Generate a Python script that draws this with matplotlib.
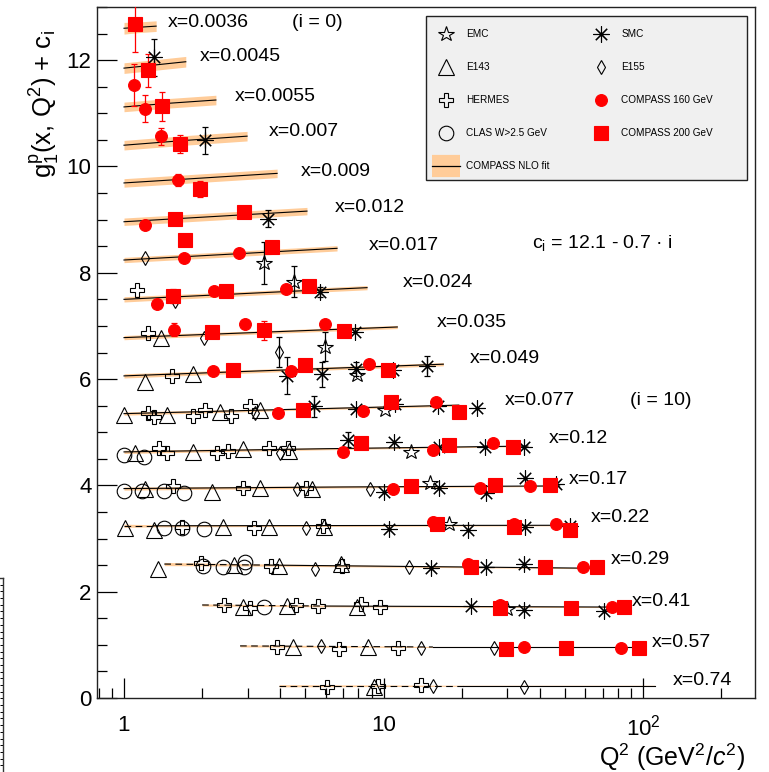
import numpy as np
import matplotlib
matplotlib.use("Agg")
import matplotlib.pyplot as plt
from matplotlib.lines import Line2D
from matplotlib.patches import Rectangle
from matplotlib.ticker import FixedLocator, FixedFormatter, LogLocator, MultipleLocator, NullFormatter

plt.rcParams['font.family'] = ['Liberation Sans', 'DejaVu Sans']
plt.rcParams['mathtext.fontset'] = 'custom'
plt.rcParams['mathtext.rm'] = 'Liberation Sans'
plt.rcParams['mathtext.it'] = 'Liberation Sans:italic'
plt.rcParams['mathtext.bf'] = 'Liberation Sans:bold'

# x bins, each shifted by c_i = 12.1 - 0.7 i
x_bins = ['0.0036', '0.0045', '0.0055', '0.007', '0.009', '0.012', '0.017', '0.024',
          '0.035', '0.049', '0.077', '0.12', '0.17', '0.22', '0.29', '0.41', '0.57', '0.74']
c_i = [12.1 - 0.7 * i for i in range(len(x_bins))]

# NLO fit per bin: Q2 nodes, g1 values, band half width
fit_q2 = [[1.0, 1.15, 1.33], [1.0, 1.32, 1.73], [1.0, 1.5, 2.26], [1.0, 1.72, 2.98],
          [1.0, 1.97, 3.89], [1.0, 2.25, 5.07], [1.0, 2.57, 6.62], [1.0, 2.94, 8.64],
          [1.0, 3.36, 11.3], [1.0, 4.1, 17.0], [1.0, 4.4, 19.5], [1.0, 6.0, 36.0],
          [1.0, 6.9, 47.7], [1.0, 1.3, 55.6], [1.43, 3.65, 69.6], [2.0, 6.0, 89.0],
          [2.8, 15.5, 101.0], [3.96, 20.3, 111.0]]
fit_g1 = [[0.50, 0.52, 0.54], [0.45, 0.51, 0.57], [0.42, 0.49, 0.55], [0.40, 0.49, 0.57],
          [0.39, 0.48, 0.57], [0.36, 0.46, 0.56], [0.34, 0.45, 0.56], [0.30, 0.41, 0.52],
          [0.28, 0.38, 0.48], [0.26, 0.37, 0.48], [0.25, 0.33, 0.41], [0.23, 0.29, 0.34],
          [0.24, 0.27, 0.29], [0.24, 0.24, 0.25], [0.22, 0.20, 0.14], [0.15, 0.13, 0.11],
          [0.08, 0.06, 0.06], [0.03, 0.03, 0.03]]
fit_err = [[0.11, 0.10, 0.10], [0.10, 0.10, 0.10], [0.09, 0.09, 0.09], [0.09, 0.09, 0.09],
           [0.08, 0.08, 0.08], [0.07, 0.07, 0.07], [0.05, 0.05, 0.05], [0.05, 0.04, 0.04],
           [0.04, 0.03, 0.03], [0.04, 0.03, 0.03], [0.03, 0.02, 0.02], [0.03, 0.02, 0.01],
           [0.03, 0.02, 0.01], [0.03, 0.02, 0.01], [0.03, 0.02, 0.01], [0.02, 0.015, 0.01],
           [0.02, 0.01, 0.01], [0.02, 0.01, 0.01]]
# below W cut the fit is dashed up to the middle node
fit_dashed = [False] * 13 + [True] * 5

# data points: (bin, Q2, g1, stat err)
emc = [(6, 3.45, 0.28, 0.40), (7, 4.50, 0.63, 0.29), (8, 5.95, 0.11, 0.27), (9, 7.87, 0.28, 0),
       (10, 10.1, 0.32, 0), (11, 12.8, 0.23, 0), (12, 15.1, 0.35, 0), (13, 17.9, 0.27, 0),
       (15, 29.9, 0.07, 0)]
smc = [(1, 1.31, 0.65, 0.35), (3, 2.05, 0.49, 0.26), (5, 3.59, 0.42, 0.16), (7, 5.71, 0.44, 0.10),
       (8, 7.77, 0.38, 0), (9, 4.26, 0.26, 0.35), (9, 5.78, 0.29, 0.23), (9, 7.82, 0.39, 0.13),
       (9, 10.9, 0.37, 0), (9, 14.7, 0.44, 0.19), (10, 5.41, 0.39, 0.20), (10, 7.82, 0.33, 0),
       (10, 11.1, 0.43, 0), (10, 16.2, 0.39, 0), (10, 23.0, 0.35, 0), (11, 7.3, 0.46, 0.14),
       (11, 11.0, 0.42, 0), (11, 16.4, 0.32, 0), (11, 24.6, 0.32, 0), (11, 34.7, 0.32, 0),
       (12, 10.0, 0.18, 0), (12, 16.4, 0.25, 0), (12, 24.8, 0.15, 0), (12, 35.0, 0.43, 0),
       (12, 46.1, 0.33, 0), (13, 10.5, 0.18, 0), (13, 21.2, 0.17, 0), (13, 35.0, 0.22, 0),
       (13, 52.5, 0.24, 0), (14, 15.2, 0.14, 0), (14, 24.8, 0.16, 0), (14, 34.9, 0.23, 0),
       (15, 21.7, 0.13, 0), (15, 34.9, 0.05, 0), (15, 70.5, 0.04, 0)]
e143 = [(8, 1.39, 0.28, 0), (9, 1.20, 0.15, 0), (9, 1.85, 0.29, 0), (10, 1.00, 0.22, 0),
        (10, 1.47, 0.22, 0), (10, 2.34, 0.29, 0), (10, 3.34, 0.32, 0), (11, 1.10, 0.21, 0),
        (11, 1.85, 0.23, 0), (11, 2.87, 0.28, 0), (11, 4.32, 0.25, 0), (12, 1.20, 0.23, 0),
        (12, 2.18, 0.18, 0), (12, 3.34, 0.25, 0), (12, 5.29, 0.24, 0), (13, 1.01, 0.19, 0),
        (13, 1.30, 0.17, 0), (13, 2.41, 0.21, 0), (13, 3.63, 0.21, 0), (13, 5.91, 0.21, 0),
        (14, 1.35, 0.12, 0), (14, 2.65, 0.20, 0), (14, 3.94, 0.18, 0), (14, 6.87, 0.22, 0),
        (15, 2.87, 0.12, 0), (15, 4.25, 0.13, 0), (15, 7.90, 0.12, 0), (16, 4.48, 0.06, 0),
        (16, 8.69, 0.06, 0), (17, 9.19, 0.00, 0)]
e155 = [(6, 1.21, 0.37, 0), (7, 1.57, 0.27, 0), (8, 2.04, 0.28, 0), (8, 3.97, 0.01, 0.28),
        (10, 3.20, 0.27, 0), (11, 3.99, 0.21, 0), (12, 4.63, 0.24, 0), (12, 8.88, 0.23, 0),
        (13, 5.03, 0.19, 0), (14, 5.46, 0.13, 0), (14, 12.5, 0.16, 0), (16, 5.74, 0.08, 0),
        (16, 14.0, 0.05, 0), (16, 26.7, 0.05, 0), (17, 15.5, 0.03, 0), (17, 34.7, 0.00, 0)]
hermes = [(7, 1.12, 0.47, 0), (8, 1.24, 0.36, 0), (9, 1.53, 0.26, 0), (10, 1.24, 0.27, 0),
          (10, 1.30, 0.19, 0), (10, 1.85, 0.21, 0), (10, 2.05, 0.32, 0), (10, 2.58, 0.20, 0),
          (10, 3.06, 0.39, 0), (11, 1.37, 0.31, 0), (11, 1.46, 0.21, 0), (11, 2.28, 0.21, 0),
          (11, 2.52, 0.25, 0), (11, 3.63, 0.31, 0), (11, 4.30, 0.30, 0), (12, 1.55, 0.29, 0),
          (12, 2.87, 0.26, 0), (12, 5.02, 0.26, 0), (13, 1.67, 0.21, 0), (13, 3.16, 0.19, 0),
          (13, 5.85, 0.24, 0), (14, 1.98, 0.24, 0), (14, 3.68, 0.18, 0), (14, 6.93, 0.18, 0),
          (15, 2.43, 0.15, 0), (15, 3.05, 0.09, 0), (15, 4.61, 0.15, 0), (15, 5.57, 0.13, 0),
          (15, 8.18, 0.17, 0), (15, 9.67, 0.11, 0), (16, 3.89, 0.06, 0), (16, 6.71, 0.03, 0),
          (16, 11.4, 0.05, 0), (17, 6.07, 0.01, 0), (17, 9.55, 0.03, 0), (17, 14.0, 0.05, 0)]
clas = [(11, 1.00, 0.17, 0), (11, 1.19, 0.14, 0), (12, 1.00, 0.19, 0), (12, 1.17, 0.19, 0),
        (12, 1.43, 0.20, 0), (12, 1.70, 0.16, 0), (13, 1.43, 0.19, 0), (13, 1.68, 0.20, 0),
        (13, 2.04, 0.18, 0), (14, 2.02, 0.18, 0), (14, 2.41, 0.16, 0), (14, 2.90, 0.16, 0),
        (14, 2.93, 0.25, 0), (15, 3.47, 0.11, 0)]
compass160 = [(2, 1.096, 0.83, 0.40), (2, 1.21, 0.39, 0.25), (3, 1.39, 0.57, 0.16),
              (4, 1.62, 0.44, 0.11), (5, 1.21, 0.30, 0.07), (6, 1.71, 0.38, 0.05),
              (6, 2.77, 0.48, 0.05), (7, 1.34, 0.22, 0.09), (7, 2.22, 0.45, 0.07),
              (7, 4.22, 0.49, 0.06), (8, 1.56, 0.43, 0.12), (8, 2.93, 0.53, 0.06),
              (8, 5.95, 0.53, 0.05), (9, 2.20, 0.36, 0), (9, 4.40, 0.35, 0), (9, 8.82, 0.48, 0),
              (10, 3.93, 0.27, 0), (10, 8.35, 0.30, 0), (10, 15.9, 0.47, 0), (11, 7.0, 0.23, 0),
              (11, 15.5, 0.27, 0), (11, 26.3, 0.40, 0), (12, 10.9, 0.24, 0), (12, 23.6, 0.26, 0),
              (12, 36.6, 0.29, 0), (13, 15.5, 0.32, 0), (13, 31.8, 0.27, 0), (13, 46.0, 0.27, 0),
              (14, 21.2, 0.22, 0), (14, 58.9, 0.16, 0), (15, 28.2, 0.15, 0), (15, 76.2, 0.11, 0),
              (16, 34.9, 0.06, 0), (16, 81.9, 0.05, 0)]
compass200 = [(0, 1.10, 0.575, 0.53), (1, 1.24, 0.41, 0.31), (2, 1.40, 0.43, 0.27),
              (3, 1.64, 0.42, 0.17), (4, 1.97, 0.27, 0.15), (5, 1.57, 0.41, 0.10),
              (5, 2.89, 0.55, 0.08), (6, 1.72, 0.71, 0.06), (6, 3.72, 0.59, 0.05),
              (7, 1.54, 0.36, 0.13), (7, 2.48, 0.45, 0.08), (7, 5.15, 0.55, 0),
              (8, 2.18, 0.38, 0.06), (8, 3.47, 0.42, 0.18), (8, 7.05, 0.41, 0),
              (9, 2.62, 0.37, 0), (9, 4.98, 0.46, 0), (9, 10.4, 0.38, 0), (10, 4.88, 0.32, 0),
              (10, 10.7, 0.47, 0), (10, 19.6, 0.28, 0), (11, 8.18, 0.39, 0), (11, 17.8, 0.36, 0),
              (11, 31.6, 0.33, 0), (12, 12.8, 0.29, 0), (12, 26.8, 0.31, 0), (12, 43.7, 0.31, 0),
              (13, 16.1, 0.27, 0), (13, 31.8, 0.22, 0), (13, 52.2, 0.17, 0), (14, 21.7, 0.17, 0),
              (14, 41.8, 0.17, 0), (14, 66.3, 0.16, 0), (15, 28.2, 0.09, 0), (15, 53.0, 0.09, 0),
              (15, 84.8, 0.12, 0), (16, 29.6, 0.03, 0), (16, 50.3, 0.05, 0), (16, 96.2, 0.05, 0)]

# where the x labels sit (Q2, shifted g1)
label_q2 = [1.47, 1.96, 2.68, 3.62, 4.81, 6.5, 8.8, 11.9, 16.1, 21.5, 29.4, 43.4, 51.9, 63.1,
            75.3, 90.7, 108.3, 130.6]
label_y = [12.71, 12.06, 11.32, 10.65, 9.91, 9.23, 8.52, 7.81, 7.07, 6.38, 5.60, 4.89, 4.12,
           3.40, 2.60, 1.82, 1.05, 0.32]

band_col = '#ffcc99'
red = '#ff0000'

fig = plt.figure(figsize=(7.69, 7.72), dpi=100)
ax = fig.add_axes([97 / 769, 1 - 698 / 772, 658 / 769, 691 / 772])
ax.set_xscale('log')
ax.set_xlim(0.787, 270)
ax.set_ylim(0, 13)

# fits
for i in range(len(x_bins)):
    q = np.array(fit_q2[i])
    g = np.array(fit_g1[i]) + c_i[i]
    w = np.array(fit_err[i])
    ax.fill_between(q, g - w, g + w, color=band_col, lw=0, zorder=1)
    if fit_dashed[i]:
        ax.plot(q[:2], g[:2], color='k', lw=0.8, ls=(0, (6, 4)), zorder=2)
        ax.plot(q[1:], g[1:], color='k', lw=0.8, zorder=2)
    else:
        ax.plot(q, g, color='k', lw=0.8, zorder=2)


def draw(data, marker, ms, col, mfc, mew=0.8):
    b, q, g, e = np.array(data, dtype=float).T
    y = g + np.array(c_i)[b.astype(int)]
    k = e > 0
    if k.any():
        ax.errorbar(q[k], y[k], yerr=e[k], fmt='none', ecolor=col, elinewidth=0.9,
                    capsize=2.5, capthick=0.9, zorder=3)
    ax.plot(q, y, ls='none', marker=marker, ms=ms, mfc=mfc, mec=col, mew=mew, zorder=4)


styles = {
    'EMC': dict(marker='*', ms=11.5, col='k', mfc='none'),
    'SMC': dict(marker=(8, 2, 0), ms=11.5, col='k', mfc='none'),
    'E143': dict(marker='^', ms=11, col='k', mfc='none'),
    'E155': dict(marker='d', ms=7.5, col='k', mfc='none'),
    'HERMES': dict(marker='P', ms=10.5, col='k', mfc='none'),
    'CLAS W>2.5 GeV': dict(marker='o', ms=10.5, col='k', mfc='none'),
    'COMPASS 160 GeV': dict(marker='o', ms=8.5, col=red, mfc=red),
    'COMPASS 200 GeV': dict(marker='s', ms=10.5, col=red, mfc=red),
}

draw(e143, **styles['E143'])
draw(hermes, **styles['HERMES'])
draw(clas, **styles['CLAS W>2.5 GeV'])
draw(e155, **styles['E155'])
draw(emc, **styles['EMC'])
draw(smc, **styles['SMC'])
draw(compass160, **styles['COMPASS 160 GeV'])
draw(compass200, **styles['COMPASS 200 GeV'])

for i, xb in enumerate(x_bins):
    ax.text(label_q2[i], label_y[i], 'x=' + xb, fontsize=14, ha='left', va='center')
ax.text(4.44, 12.71, '(i = 0)', fontsize=14, ha='left', va='center')
ax.text(89.3, 5.60, '(i = 10)', fontsize=14, ha='left', va='center')
ax.text(37.3, 8.56, r'c$_{\mathrm{i}}$ = 12.1 - 0.7 · i', fontsize=14, ha='left', va='center')

# legend: grey box drawn separately, entries placed inside it
ax.add_patch(Rectangle((0.5, 0.7496), 0.4878, 0.2373, transform=ax.transAxes,
                       fc='#f0f0f0', ec='#222222', lw=1.0, zorder=5))


def mk(name):
    s = styles[name]
    return Line2D([], [], ls='none', marker=s['marker'], ms=s['ms'], mfc=s['mfc'],
                  mec=s['col'], mew=0.8)


nlo = (Line2D([], [], color=band_col, lw=16, solid_capstyle='butt'),
       Line2D([], [], color='k', lw=0.9))
handles = [mk('EMC'), mk('E143'), mk('HERMES'), mk('CLAS W>2.5 GeV'), nlo,
           mk('SMC'), mk('E155'), mk('COMPASS 160 GeV'), mk('COMPASS 200 GeV')]
labels = ['EMC', 'E143', 'HERMES', 'CLAS W>2.5 GeV', 'COMPASS NLO fit',
          'SMC', 'E155', 'COMPASS 160 GeV', 'COMPASS 200 GeV']
leg = ax.legend(handles, labels, ncol=2, loc='upper left', bbox_to_anchor=(0.5091, 0.9675),
                fontsize=7.2, frameon=False, handlelength=2.8, handleheight=0.7,
                labelspacing=2.3, borderpad=0, handletextpad=0.6, columnspacing=3.8,
                borderaxespad=0, numpoints=1)
leg.set_zorder(6)

# axes, ROOT-like ticks inside
ax.xaxis.set_major_locator(FixedLocator([1, 10, 100]))
ax.xaxis.set_major_formatter(FixedFormatter(['1', '10', '10$^{2}$']))
ax.xaxis.set_minor_locator(LogLocator(base=10, subs=np.arange(2, 10)))
ax.xaxis.set_minor_formatter(NullFormatter())
ax.yaxis.set_major_locator(MultipleLocator(2))
ax.yaxis.set_minor_locator(MultipleLocator(0.5))
ax.tick_params(which='major', direction='in', length=14.4, width=0.9, labelsize=16,
               top=False, right=False)
ax.tick_params(which='minor', direction='in', length=7.2, width=0.9, top=False, right=False)
ax.tick_params(axis='x', which='major', pad=12)
ax.tick_params(axis='y', which='major', pad=4)
for s in ax.spines.values():
    s.set_linewidth(1.0)
    s.set_color('#222222')

fig.text(45 / 769, 1 - 30 / 772, r'g$_{\mathrm{1}}^{\mathrm{p}}$(x, Q$^{2}$) + c$_{\mathrm{i}}$',
         rotation=90, fontsize=18.5, ha='center', va='top')
fig.text(745 / 769, 1 - 757 / 772, 'Q$^{2}$ (GeV$^{2}$/$c^{2}$)', fontsize=18,
         ha='right', va='center')

# edge of the neighbouring panel at the lower left
frag = fig.add_axes([-0.05, 0.0, 0.0535, 194 / 772])
frag.patch.set_alpha(0)
frag.set_xlim(0, 1)
frag.set_ylim(0, 29)
frag.spines['left'].set_visible(False)
frag.spines['bottom'].set_visible(False)
for s in ('right', 'top'):
    frag.spines[s].set_linewidth(1.0)
    frag.spines[s].set_color('#333333')
frag.set_xticks([])
frag.yaxis.tick_right()
frag.set_yticks(np.arange(1, 29))
frag.tick_params(axis='y', direction='in', length=2.5, width=0.7, labelright=False)

fig.savefig('out.png', dpi=100)
